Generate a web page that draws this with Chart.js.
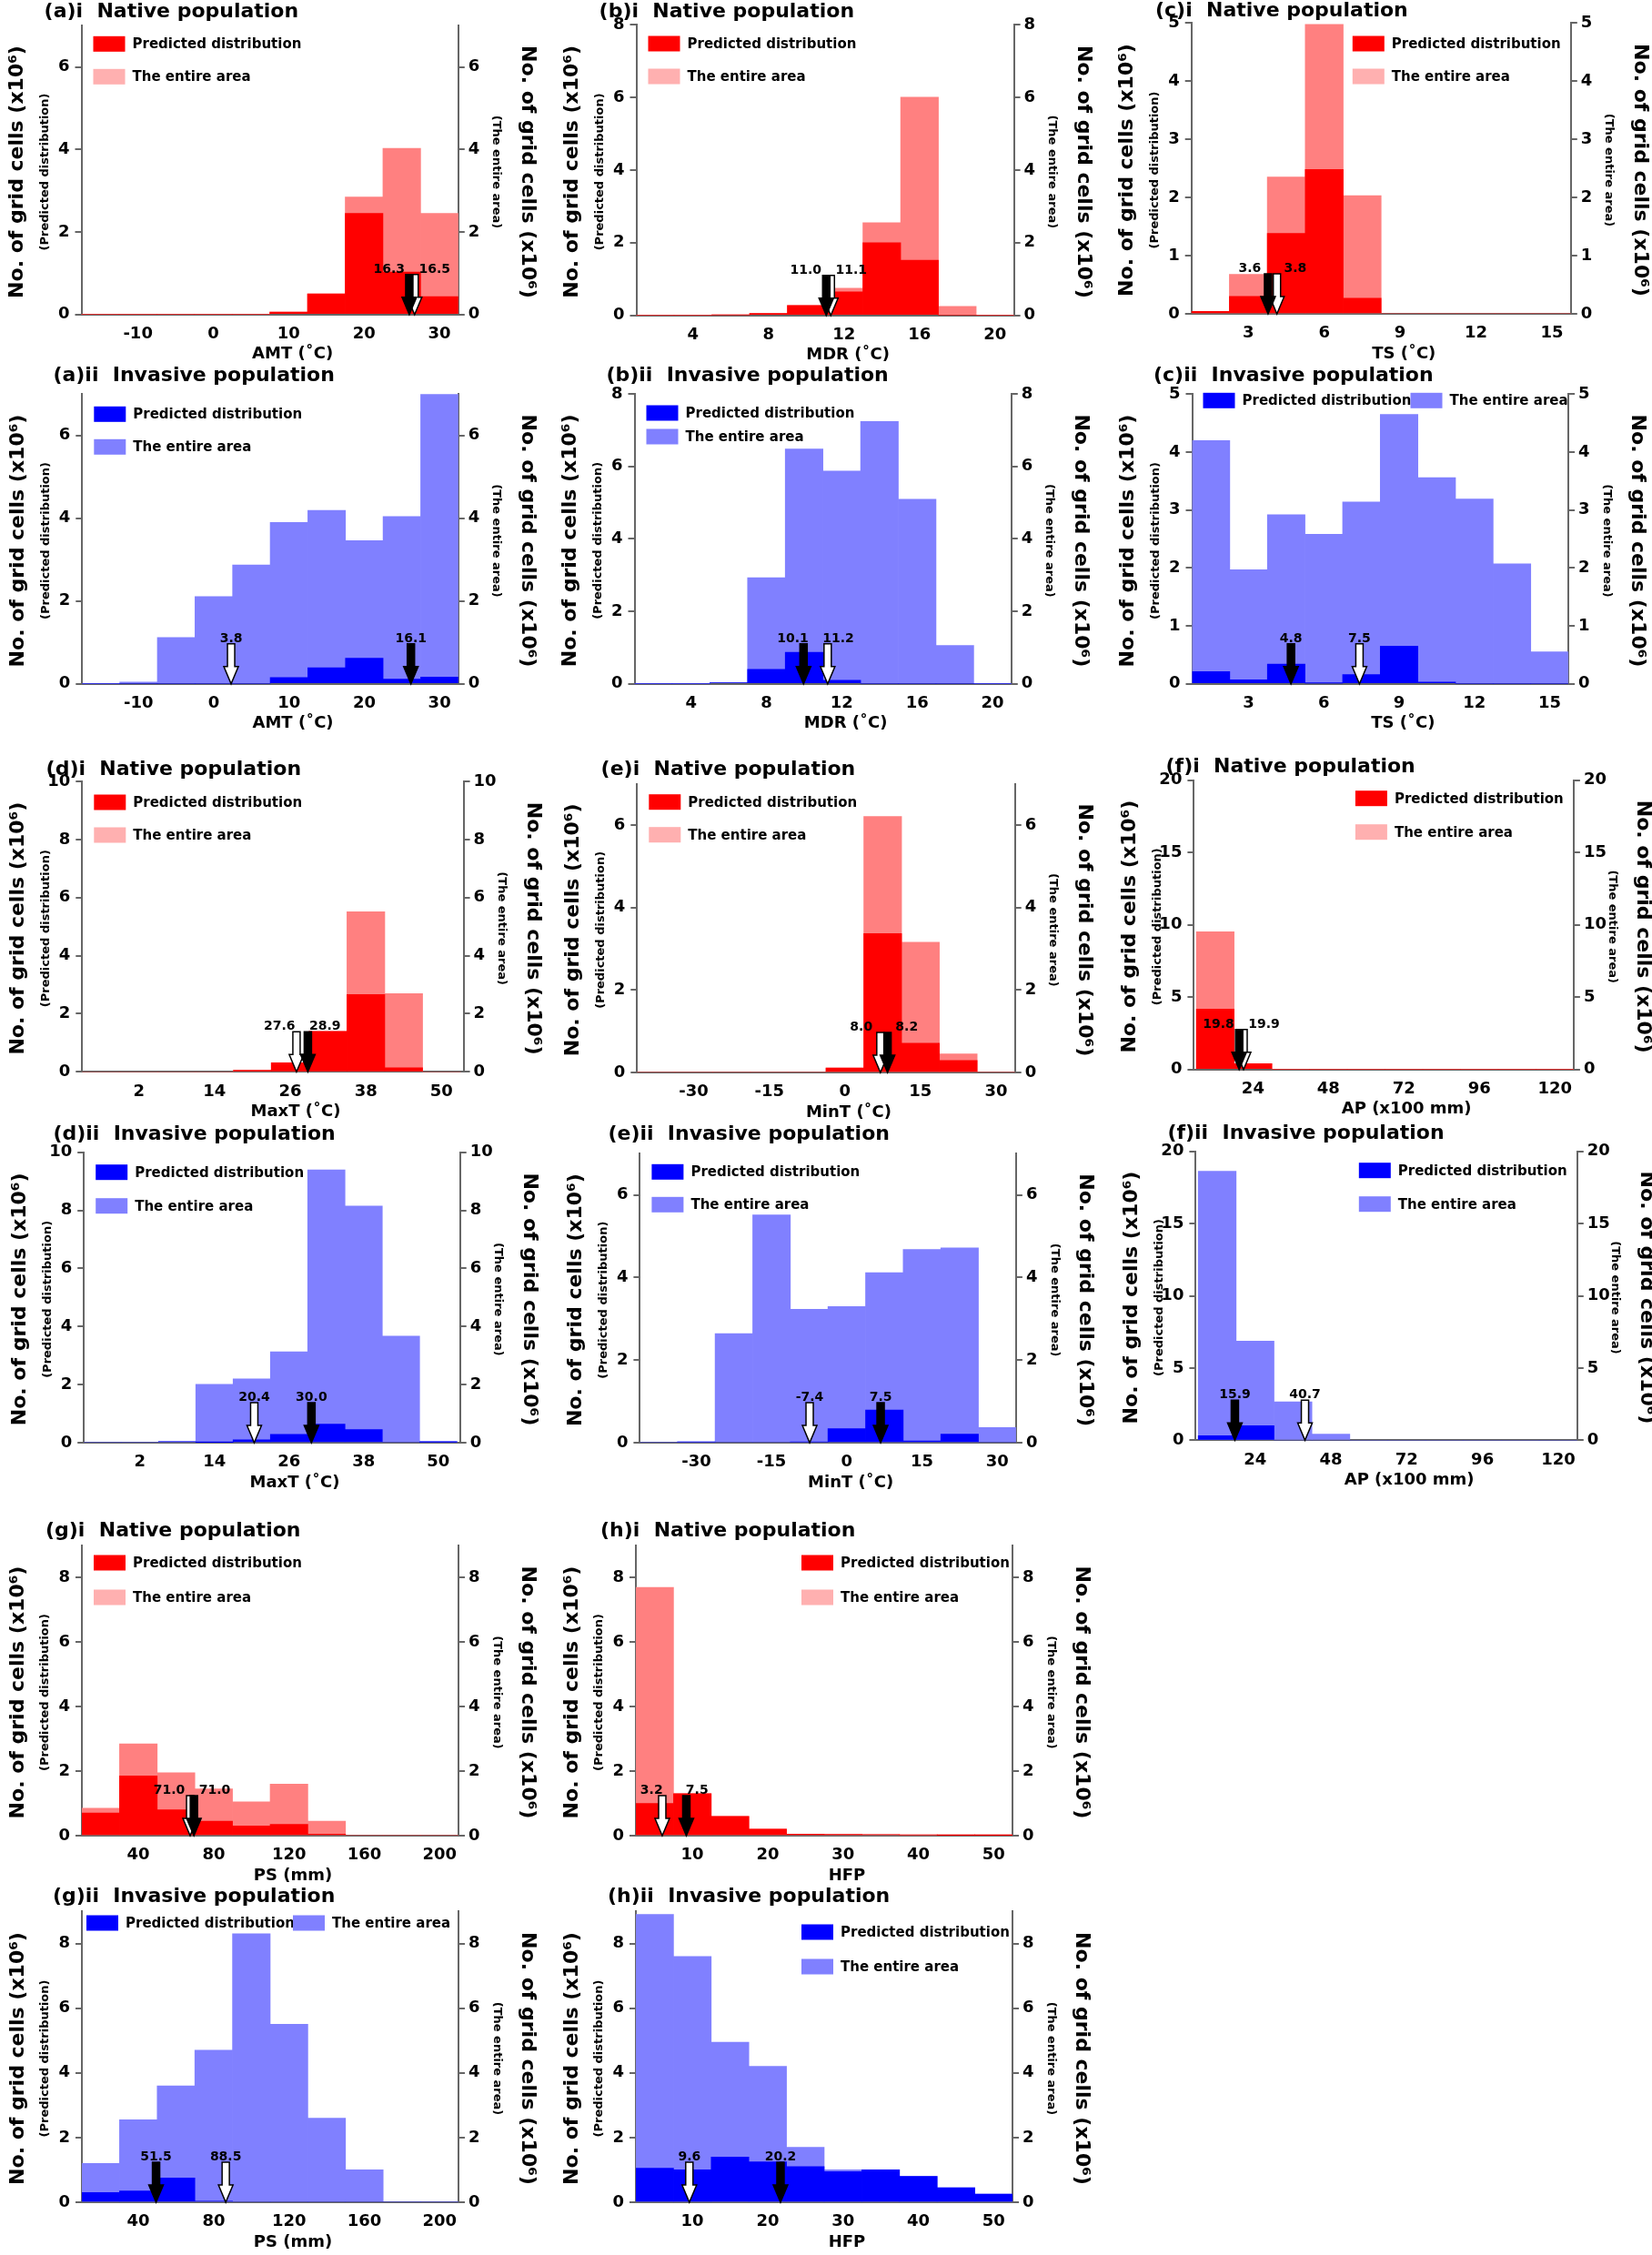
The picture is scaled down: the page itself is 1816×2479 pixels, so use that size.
<!DOCTYPE html>
<html>
<head>
<meta charset="utf-8">
<script src="https://cdn.jsdelivr.net/npm/chart.js"></script>
<style>
html,body{margin:0;padding:0;background:#fff;overflow:hidden;}
#page{position:relative;width:1816px;height:2479px;background:#fff;}
#page canvas{position:absolute;}
</style>
</head>
<body>
<div id="page"></div>
<script>
// ================= DATA =================
// Bin centres, tick labels and per-bin counts (x10^6 grid cells)
// Arrow arrays: [predicted-distribution marker (black), entire-area marker (hollow)]

// AMT
const amtBins = [-15,-10,-5,0,5,10,15,20,25,30];
const amtTicks = [-10,0,10,20,30];
const amtNativePred = [0,0,0,0,0,0.06,0.5,2.45,1.03,0.43];
const amtNativeAll  = [0,0,0,0,0,0.06,0.5,2.85,4.03,2.45];
const amtInvPred    = [0,0,0,0,0,0.15,0.39,0.62,0.11,0.16];
const amtInvAll     = [0,0.04,1.12,2.11,2.87,3.9,4.19,3.46,4.04,7.0];
const amtNativeArrowAt = [26.0, 26.7];
const amtNativeArrowText = ['16.3','16.5'];
const amtInvArrowAt = [26.2, 2.3];
const amtInvArrowText = ['16.1','3.8'];

// MDR
const mdrBins = [2,4,6,8,10,12,14,16,18,20];
const mdrTicks = [4,8,12,16,20];
const mdrNativePred = [0,0,0,0.05,0.27,0.65,2.0,1.52,0,0];
const mdrNativeAll  = [0,0,0.03,0.05,0.27,0.75,2.55,6.0,0.25,0];
const mdrInvPred    = [0,0,0.03,0.4,0.87,0.1,0,0,0,0];
const mdrInvAll     = [0,0,0.03,2.93,6.48,5.87,7.24,5.09,1.06,0];
const mdrNativeArrowAt = [11.06, 11.3];
const mdrNativeArrowText = ['11.0','11.1'];
const mdrInvArrowAt = [9.97, 11.25];
const mdrInvArrowText = ['10.1','11.2'];

// TS
const tsBins = [1.5,3,4.5,6,7.5,9,10.5,12,13.5,15];
const tsTicks = [3,6,9,12,15];
const tsNativePred = [0.04,0.3,1.38,2.48,0.27,0,0,0,0,0];
const tsNativeAll  = [0.04,0.68,2.35,4.97,2.03,0,0,0,0,0];
const tsInvPred    = [0.21,0.07,0.34,0.01,0.16,0.65,0.03,0,0,0];
const tsInvAll     = [4.2,1.97,2.92,2.58,3.14,4.65,3.56,3.19,2.07,0.55];
const tsNativeArrowAt = [3.78, 4.13];
const tsNativeArrowText = ['3.6','3.8'];
const tsInvArrowAt = [4.69, 7.42];
const tsInvArrowText = ['4.8','7.5'];

// MaxT
const maxtBins = [-4,2,8,14,20,26,32,38,44,50];
const maxtTicks = [2,14,26,38,50];
const maxtNativePred = [0,0,0,0,0.05,0.31,1.39,2.66,0.14,0];
const maxtNativeAll  = [0,0,0,0,0.05,0.31,1.39,5.51,2.69,0];
const maxtInvPred    = [0,0,0.03,0.01,0.1,0.29,0.64,0.45,0,0.02];
const maxtInvAll     = [0,0,0.05,2.01,2.2,3.13,9.39,8.15,3.67,0.05];
const maxtNativeArrowAt = [28.8, 27.0];
const maxtNativeArrowText = ['28.9','27.6'];
const maxtInvArrowAt = [29.6, 20.4];
const maxtInvArrowText = ['30.0','20.4'];

// MinT
const mintBins = [-37.5,-30,-22.5,-15,-7.5,0,7.5,15,22.5,30];
const mintTicks = [-30,-15,0,15,30];
const mintNativePred = [0,0,0,0,0,0.11,3.37,0.71,0.29,0];
const mintNativeAll  = [0,0,0,0,0,0.11,6.21,3.16,0.45,0];
const mintInvPred    = [0,0.02,0,0,0.02,0.34,0.79,0.04,0.21,0];
const mintInvAll     = [0,0.02,2.64,5.52,3.23,3.3,4.12,4.68,4.72,0.37];
const mintNativeArrowAt = [8.46, 7.05];
const mintNativeArrowText = ['8.2','8.0'];
const mintInvArrowAt = [6.75, -7.4];
const mintInvArrowText = ['7.5','-7.4'];

// AP
const apBins = [12,24,36,48,60,72,84,96,108,120];
const apTicks = [24,48,72,96,120];
const apNativePred = [4.17,0.4,0,0,0,0,0,0,0,0];
const apNativeAll  = [9.52,0.4,0,0,0,0,0,0,0,0];
const apInvPred    = [0.31,1.01,0,0,0,0,0,0,0,0];
const apInvAll     = [18.63,6.86,2.66,0.42,0,0,0,0,0,0];
const apNativeArrowAt = [19.6, 21.0];
const apNativeArrowText = ['19.8','19.9'];
const apInvArrowAt = [17.6, 39.8];
const apInvArrowText = ['15.9','40.7'];

// PS
const psBins = [20,40,60,80,100,120,140,160,180,200];
const psTicks = [40,80,120,160,200];
const psNativePred = [0.7,1.85,0.8,0.45,0.3,0.35,0.05,0,0,0];
const psNativeAll  = [0.85,2.85,1.95,1.45,1.05,1.6,0.45,0,0,0];
const psInvPred    = [0.3,0.35,0.75,0.03,0,0,0,0,0,0];
const psInvAll     = [1.2,2.55,3.6,4.7,8.3,5.5,2.6,1.0,0,0];
const psNativeArrowAt = [69.5, 67.5];
const psNativeArrowText = ['71.0','71.0'];
const psInvArrowAt = [49.4, 86.4];
const psInvArrowText = ['51.5','88.5'];

// HFP
const hfpBins = [5,10,15,20,25,30,35,40,45,50];
const hfpTicks = [10,20,30,40,50];
const hfpNativePred = [1.0,1.3,0.6,0.2,0.05,0.04,0.03,0.02,0.01,0.01];
const hfpNativeAll  = [7.7,1.3,0.6,0.2,0.05,0.04,0.03,0.02,0.01,0.01];
const hfpInvPred    = [1.05,1.0,1.4,1.25,1.1,0.95,1.0,0.8,0.45,0.25];
const hfpInvAll     = [8.9,7.6,4.95,4.2,1.7,1.0,1.0,0.8,0.45,0.25];
const hfpNativeArrowAt = [9.2, 6.0];
const hfpNativeArrowText = ['7.5','3.2'];
const hfpInvArrowAt = [21.7, 9.6];
const hfpInvArrowText = ['20.2','9.6'];

// y tick label sets
const yTicksA = [0,2,4,6];
const yTicksB = [0,2,4,6,8];
const yTicksC = [0,1,2,3,4,5];
const yTicksD = [0,2,4,6,8,10];
const yTicksF = [0,5,10,15,20];

const legendLabels = ['Predicted distribution','The entire area'];
const yTitleMain = 'No. of grid cells (x10\u2076)';
const yTitleLeftSub = '(Predicted distribution)';
const yTitleRightSub = '(The entire area)';

// ================= STYLE / LAYOUT =================
const FAM = '"DejaVu Sans", "Liberation Sans", sans-serif';
const RED = {pred:'#ff0000', all:'#ff8080', key:'#ffb0b0'};
const BLUE = {pred:'#0000ff', all:'#8080ff', key:'#8080ff'};
const C1=[0,605], C2=[605,1205], C3=[1205,1816];
const R1=[0,400], R2=[400,818], R3=[818,1235], R4=[1235,1655], R5=[1655,2073], R6=[2073,2479];
function cell(c,r){return [c[0],r[0],c[1],r[1]];}

const panels = [
 {title:'(a)i  Native population', xTitle:'AMT (\u02DAC)', bins:amtBins, xTicks:amtTicks, xMin:-17.5, xMax:32.5, yMax:7, yTicks:yTicksA,
  pred:amtNativePred, all:amtNativeAll, arrowAt:amtNativeArrowAt, arrowText:amtNativeArrowText, pal:RED,
  cell:cell(C1,R1), L:89.5, T:28.3, R:503.8, B:345.7, tx:48.6, ty:18.5, lg:{mode:'left', dy:[20,56]}},
 {title:'(b)i  Native population', xTitle:'MDR (\u02DAC)', bins:mdrBins, xTicks:mdrTicks, xMin:1, xMax:21, yMax:8, yTicks:yTicksB,
  pred:mdrNativePred, all:mdrNativeAll, arrowAt:mdrNativeArrowAt, arrowText:mdrNativeArrowText, pal:RED,
  cell:cell(C2,R1), L:699.5, T:27, R:1114.6, B:346.7, tx:658.6, ty:18.5, lg:{mode:'left', dy:[21,57]}},
 {title:'(c)i  Native population', xTitle:'TS (\u02DAC)', bins:tsBins, xTicks:tsTicks, xMin:0.75, xMax:15.75, yMax:5, yTicks:yTicksC,
  pred:tsNativePred, all:tsNativeAll, arrowAt:tsNativeArrowAt, arrowText:tsNativeArrowText, pal:RED,
  cell:cell(C3,R1), L:1309.7, T:25, R:1726.8, B:345, tx:1270, ty:18, lg:{mode:'right', dx:240, dy:[23,59]}},

 {title:'(a)ii  Invasive population', xTitle:'AMT (\u02DAC)', bins:amtBins, xTicks:amtTicks, xMin:-17.5, xMax:32.5, yMax:7, yTicks:yTicksA,
  pred:amtInvPred, all:amtInvAll, arrowAt:amtInvArrowAt, arrowText:amtInvArrowText, pal:BLUE,
  cell:cell(C1,R2), L:90.3, T:433.3, R:503.8, B:751.7, tx:58.4, ty:418.5, lg:{mode:'left', dy:[22,58]}},
 {title:'(b)ii  Invasive population', xTitle:'MDR (\u02DAC)', bins:mdrBins, xTicks:mdrTicks, xMin:1, xMax:21, yMax:8, yTicks:yTicksB,
  pred:mdrInvPred, all:mdrInvAll, arrowAt:mdrInvArrowAt, arrowText:mdrInvArrowText, pal:BLUE,
  cell:cell(C2,R2), L:697.5, T:433, R:1111.8, B:751.7, tx:666.4, ty:418.5, lg:{mode:'left', dy:[21,47]}},
 {title:'(c)ii  Invasive population', xTitle:'TS (\u02DAC)', bins:tsBins, xTicks:tsTicks, xMin:0.75, xMax:15.75, yMax:5, yTicks:yTicksC,
  pred:tsInvPred, all:tsInvAll, arrowAt:tsInvArrowAt, arrowText:tsInvArrowText, pal:BLUE,
  cell:cell(C3,R2), L:1310.5, T:433.3, R:1724.1, B:751.7, tx:1268, ty:418.5, lg:{mode:'top', dx:[12,240], dy:[7,7]}},

 {title:'(d)i  Native population', xTitle:'MaxT (\u02DAC)', bins:maxtBins, xTicks:maxtTicks, xMin:-7, xMax:53.5, yMax:10, yTicks:yTicksD,
  pred:maxtNativePred, all:maxtNativeAll, arrowAt:maxtNativeArrowAt, arrowText:maxtNativeArrowText, pal:RED,
  cell:cell(C1,R3), L:90.3, T:859, R:509.6, B:1178.3, tx:50.6, ty:851.5, lg:{mode:'left', dy:[23,59]}},
 {title:'(e)i  Native population', xTitle:'MinT (\u02DAC)', bins:mintBins, xTicks:mintTicks, xMin:-41.25, xMax:33.75, yMax:7, yTicks:yTicksA,
  pred:mintNativePred, all:mintNativeAll, arrowAt:mintNativeArrowAt, arrowText:mintNativeArrowText, pal:RED,
  cell:cell(C2,R3), L:700.3, T:861.7, R:1115.7, B:1179, tx:660.6, ty:851.5, lg:{mode:'left', dy:[20,56]}},
 {title:'(f)i  Native population', xTitle:'AP (x100 mm)', bins:apBins, xTicks:apTicks, xMin:5.2, xMax:126, yMax:20, yTicks:yTicksF,
  pred:apNativePred, all:apNativeAll, arrowAt:apNativeArrowAt, arrowText:apNativeArrowText, pal:RED,
  cell:cell(C3,R3), L:1312.4, T:857.7, R:1729.9, B:1175.7, tx:1281.5, ty:848.5, lg:{mode:'right', dx:240, dy:[20,57]}},

 {title:'(d)ii  Invasive population', xTitle:'MaxT (\u02DAC)', bins:maxtBins, xTicks:maxtTicks, xMin:-7, xMax:53.5, yMax:10, yTicks:yTicksD,
  pred:maxtInvPred, all:maxtInvAll, arrowAt:maxtInvArrowAt, arrowText:maxtInvArrowText, pal:BLUE,
  cell:cell(C1,R4), L:92.2, T:1266.7, R:505.7, B:1586, tx:58.4, ty:1253.3, lg:{mode:'left', dy:[22,59]}},
 {title:'(e)ii  Invasive population', xTitle:'MinT (\u02DAC)', bins:mintBins, xTicks:mintTicks, xMin:-41.25, xMax:33.75, yMax:7, yTicks:yTicksA,
  pred:mintInvPred, all:mintInvAll, arrowAt:mintInvArrowAt, arrowText:mintInvArrowText, pal:BLUE,
  cell:cell(C2,R4), L:703.4, T:1268.3, R:1116.9, B:1586, tx:668.4, ty:1253.3, lg:{mode:'left', dy:[20,56]}},
 {title:'(f)ii  Invasive population', xTitle:'AP (x100 mm)', bins:apBins, xTicks:apTicks, xMin:5.2, xMax:126, yMax:20, yTicks:yTicksF,
  pred:apInvPred, all:apInvAll, arrowAt:apInvArrowAt, arrowText:apInvArrowText, pal:BLUE,
  cell:cell(C3,R4), L:1314.4, T:1265.7, R:1733.8, B:1583.3, tx:1283.4, ty:1251.7, lg:{mode:'right', dx:240, dy:[21,58]}},

 {title:'(g)i  Native population', xTitle:'PS (mm)', bins:psBins, xTicks:psTicks, xMin:10, xMax:210, yMax:9, yTicks:yTicksB,
  pred:psNativePred, all:psNativeAll, arrowAt:psNativeArrowAt, arrowText:psNativeArrowText, pal:RED,
  cell:cell(C1,R5), L:90, T:1699, R:504, B:2018, tx:50, ty:1689, lg:{mode:'left', dy:[19,57]}},
 {title:'(h)i  Native population', xTitle:'HFP', bins:hfpBins, xTicks:hfpTicks, xMin:2.5, xMax:52.5, yMax:9, yTicks:yTicksB,
  pred:hfpNativePred, all:hfpNativeAll, arrowAt:hfpNativeArrowAt, arrowText:hfpNativeArrowText, pal:RED,
  cell:cell(C2,R5), L:699, T:1699, R:1113, B:2018, tx:660, ty:1689, lg:{mode:'right', dx:232, dy:[19,57]}},

 {title:'(g)ii  Invasive population', xTitle:'PS (mm)', bins:psBins, xTicks:psTicks, xMin:10, xMax:210, yMax:9, yTicks:yTicksB,
  pred:psInvPred, all:psInvAll, arrowAt:psInvArrowAt, arrowText:psInvArrowText, pal:BLUE,
  cell:cell(C1,R6), L:90, T:2101, R:504, B:2421, tx:58, ty:2091, lg:{mode:'top', dx:[5,232], dy:[13,13]}},
 {title:'(h)ii  Invasive population', xTitle:'HFP', bins:hfpBins, xTicks:hfpTicks, xMin:2.5, xMax:52.5, yMax:9, yTicks:yTicksB,
  pred:hfpInvPred, all:hfpInvAll, arrowAt:hfpInvArrowAt, arrowText:hfpInvArrowText, pal:BLUE,
  cell:cell(C2,R6), L:699, T:2101, R:1113, B:2421, tx:668, ty:2091, lg:{mode:'right', dx:232, dy:[23,61]}}
];

// ================= DRAWING HELPERS =================
function drawArrow(ctx, x, yBase, filled){
  const len=44, shaftW=8, headW=16, headL=19, top=yBase-len;
  ctx.beginPath();
  ctx.moveTo(x-shaftW/2, top);
  ctx.lineTo(x+shaftW/2, top);
  ctx.lineTo(x+shaftW/2, yBase-headL);
  ctx.lineTo(x+headW/2, yBase-headL);
  ctx.lineTo(x, yBase);
  ctx.lineTo(x-headW/2, yBase-headL);
  ctx.lineTo(x-shaftW/2, yBase-headL);
  ctx.closePath();
  ctx.fillStyle = filled ? '#000' : '#fff';
  ctx.fill();
  ctx.lineWidth = 1.5; ctx.strokeStyle = '#000'; ctx.stroke();
}
function rotText(ctx, text, x, y, angle, font){
  ctx.save(); ctx.translate(x,y); ctx.rotate(angle);
  ctx.font = font; ctx.textAlign='center'; ctx.textBaseline='middle'; ctx.fillStyle='#000';
  ctx.fillText(text,0,0); ctx.restore();
}

function makeDeco(p){
  return {
    id:'deco',
    afterDatasetsDraw(chart){
      const ctx=chart.ctx, xs=chart.scales.x, ca=chart.chartArea;
      const px = p.arrowAt.map(v=>xs.getPixelForValue(v));
      ctx.save();
      drawArrow(ctx, px[1], ca.bottom, false);
      drawArrow(ctx, px[0], ca.bottom, true);
      const lx = px.slice();
      if (Math.abs(px[0]-px[1]) < 50){
        const mid=(px[0]+px[1])/2, li = px[0] <= px[1] ? 0 : 1;
        lx[li]=mid-25; lx[1-li]=mid+25;
      }
      ctx.font='bold 14px '+FAM; ctx.fillStyle='#000'; ctx.textAlign='center'; ctx.textBaseline='alphabetic';
      p.arrowText.forEach((t,i)=>ctx.fillText(t, lx[i], ca.bottom-46));
      ctx.restore();
    },
    afterDraw(chart){
      const ctx=chart.ctx, ca=chart.chartArea, ox=p.cell[0], oy=p.cell[1];
      const L=ca.left, R=ca.right, T=ca.top, B=ca.bottom, cy=(T+B)/2+2;
      ctx.save();
      ctx.fillStyle='#000';
      ctx.font='bold 22px '+FAM; ctx.textAlign='left'; ctx.textBaseline='alphabetic';
      ctx.fillText(p.title, p.tx-ox, p.ty-oy);
      ctx.font='bold 18px '+FAM; ctx.textAlign='center'; ctx.textBaseline='middle';
      ctx.fillText(p.xTitle, (L+R)/2+25, B+44);
      rotText(ctx, yTitleMain, L-70, cy, -Math.PI/2, 'bold 22px '+FAM);
      rotText(ctx, yTitleLeftSub, L-40, cy, -Math.PI/2, 'bold 13px '+FAM);
      rotText(ctx, yTitleRightSub, R+42, cy, Math.PI/2, 'bold 13px '+FAM);
      rotText(ctx, yTitleMain, R+76, cy, Math.PI/2, 'bold 22px '+FAM);
      // legend
      const cols=[p.pal.pred, p.pal.key];
      let pos;
      if (p.lg.mode==='left') pos=[[L+13,T+p.lg.dy[0]],[L+13,T+p.lg.dy[1]]];
      else if (p.lg.mode==='right') pos=[[R-p.lg.dx,T+p.lg.dy[0]],[R-p.lg.dx,T+p.lg.dy[1]]];
      else pos=[[L+p.lg.dx[0],T+p.lg.dy[0]],[L+p.lg.dx[1],T+p.lg.dy[1]]];
      ctx.font='bold 15px '+FAM; ctx.textAlign='left'; ctx.textBaseline='middle';
      pos.forEach((q,i)=>{
        ctx.fillStyle=cols[i]; ctx.fillRect(q[0], q[1]-8.5, 35, 17);
        ctx.fillStyle='#000'; ctx.fillText(legendLabels[i], q[0]+43, q[1]+1);
      });
      ctx.restore();
    }
  };
}

Chart.defaults.font.family = FAM;
Chart.defaults.font.weight = 'bold';
Chart.defaults.color = '#000';

const page=document.getElementById('page');
panels.forEach(p=>{
  const cv=document.createElement('canvas');
  const w=p.cell[2]-p.cell[0], h=p.cell[3]-p.cell[1];
  cv.width=w; cv.height=h;
  cv.style.left=p.cell[0]+'px'; cv.style.top=p.cell[1]+'px';
  cv.style.width=w+'px'; cv.style.height=h+'px';
  page.appendChild(cv);
  // the axis boxes take exactly the room between the plot area and the canvas edge
  const leftW = p.L-p.cell[0], rightW = p.cell[2]-p.R, bottomH = p.cell[3]-p.B;
  const pad={left:0, top:p.T-p.cell[1], right:0, bottom:0};
  const yAxis=(pos)=>({
    type:'linear', position:pos, min:0, max:p.yMax,
    afterBuildTicks:s=>{s.ticks=p.yTicks.map(v=>({value:v}));},
    afterFit:s=>{s.width = pos==='left' ? leftW : rightW;},
    grid:{display:true, drawOnChartArea:false, drawTicks:true, tickLength:7, color:'#666', lineWidth:2},
    border:{display:true, color:'#666', width:2},
    ticks:{font:{size:18, weight:'bold', family:FAM}, color:'#000', padding:pos==='left'?6:4, autoSkip:false}
  });
  new Chart(cv,{
    type:'bar',
    data:{datasets:[
      {label:legendLabels[0], data:p.bins.map((x,i)=>({x:x,y:p.pred[i]})), backgroundColor:p.pal.pred, yAxisID:'y'},
      {label:legendLabels[1], data:p.bins.map((x,i)=>({x:x,y:p.all[i]})), backgroundColor:p.pal.all, yAxisID:'y2'}
    ]},
    options:{
      responsive:false, animation:false, devicePixelRatio:1,
      layout:{padding:pad},
      datasets:{bar:{grouped:false, barPercentage:1, categoryPercentage:1, borderWidth:0}},
      plugins:{legend:{display:false}, title:{display:false}, tooltip:{enabled:false}},
      scales:{
        x:{type:'linear', min:p.xMin, max:p.xMax, offset:false,
           afterBuildTicks:s=>{s.ticks=p.xTicks.map(v=>({value:v}));},
           afterFit:s=>{s.height=bottomH;},
           grid:{display:false, drawTicks:false},
           border:{display:true, color:'#666', width:2},
           ticks:{font:{size:18, weight:'bold', family:FAM}, color:'#000', padding:11, maxRotation:0, autoSkip:false}},
        y:yAxis('left'),
        y2:yAxis('right')
      }
    },
    plugins:[makeDeco(p)]
  });
});
</script>
</body>
</html>
